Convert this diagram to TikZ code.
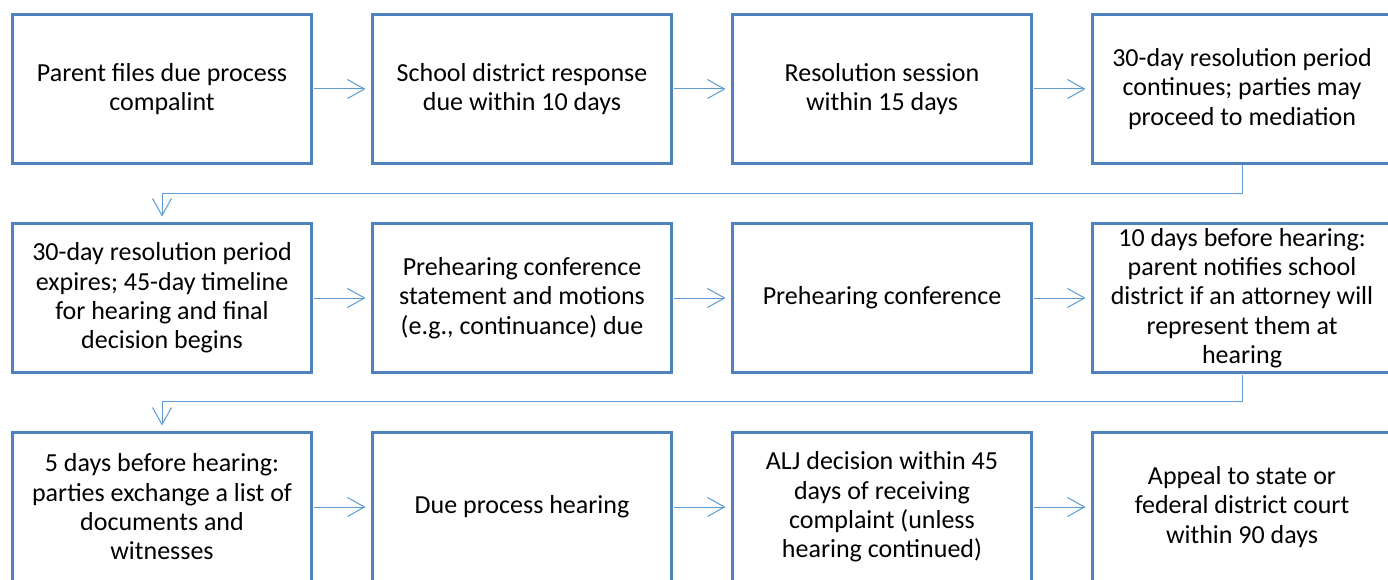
\documentclass[tikz,border=0pt]{standalone}
\usepackage{fontspec}
\setmainfont{Carlito}
\usetikzlibrary{positioning,arrows.meta}
\definecolor{boxblue}{RGB}{79,129,189}
\definecolor{lineblue}{RGB}{91,155,213}
\tikzset{
  stepbox/.style={draw=boxblue, line width=2.6pt, minimum width=299pt, minimum height=149pt,
    inner sep=0pt, outer sep=0pt, align=center, font=\fontsize{26}{29.3}\selectfont},
  flow/.style={draw=lineblue, line width=1pt, -{Straight Barb[length=17pt,width=19pt,line width=1pt]},
    shorten <=2pt, shorten >=7pt}
}
\begin{document}
\begin{tikzpicture}[x=1pt,y=1pt]
\useasboundingbox (0,0) rectangle (1388,-580);
% first row
\node[stepbox] (b1) at (162,-89) {Parent files due process\\compalint};
\node[stepbox, right=61pt of b1] (b2) {School district response\\due within 10 days};
\node[stepbox, right=61pt of b2] (b3) {Resolution session\\within 15 days};
\node[stepbox, right=61pt of b3] (b4) {30-day resolution period\\continues; parties may\\proceed to mediation};
% second row
\node[stepbox, below=60pt of b1] (b5) {30-day resolution period\\expires; 45-day timeline\\for hearing and final\\decision begins};
\node[stepbox, right=61pt of b5] (b6) {Prehearing conference\\statement and motions\\(e.g., continuance) due};
\node[stepbox, right=61pt of b6] (b7) {Prehearing conference};
\node[stepbox, right=61pt of b7] (b8) {10 days before hearing:\\parent notifies school\\district if an attorney will\\represent them at\\hearing};
% third row
\node[stepbox, below=60pt of b5] (b9) {5 days before hearing:\\parties exchange a list of\\documents and\\witnesses};
\node[stepbox, right=61pt of b9] (b10) {Due process hearing};
\node[stepbox, right=61pt of b10] (b11) {ALJ decision within 45\\days of receiving\\complaint (unless\\hearing continued)};
\node[stepbox, right=61pt of b11] (b12) {Appeal to state or\\federal district court\\within 90 days};
% connectors
\foreach \a/\b in {b1/b2,b2/b3,b3/b4,b5/b6,b6/b7,b7/b8,b9/b10,b10/b11,b11/b12}
  \draw[flow] (\a) -- (\b);
\draw[flow] (b4.south) -- ++(0,-30) -| (b5.north);
\draw[flow] (b8.south) -- ++(0,-29) -| (b9.north);
\end{tikzpicture}
\end{document}
